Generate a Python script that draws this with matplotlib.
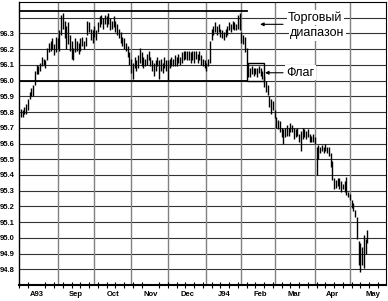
import matplotlib
matplotlib.use("Agg")
import matplotlib.pyplot as plt
from matplotlib.patches import Rectangle

# ---- data (daily high / low of the bar chart, trading-day index) ----
highs = [95.82, 95.81, 95.83, 95.85, 95.88, 95.93, 95.95, 95.97, 96.06, 96.10,
         96.09, 96.11, 96.15, 96.14, 96.13, 96.21, 96.24, 96.25, 96.27, 96.23,
         96.28, 96.27, 96.32, 96.42, 96.43, 96.38, 96.35, 96.37, 96.29, 96.25,
         96.21, 96.27, 96.25, 96.24, 96.27, 96.28, 96.25, 96.28, 96.38, 96.37,
         96.33, 96.32, 96.35, 96.32, 96.37, 96.41, 96.42, 96.40, 96.42, 96.41,
         96.43, 96.40, 96.38, 96.41, 96.38, 96.36, 96.33, 96.31, 96.28, 96.27,
         96.24, 96.22, 96.18, 96.14, 96.11, 96.15, 96.13, 96.16, 96.21, 96.18,
         96.15, 96.14, 96.17, 96.19, 96.15, 96.13, 96.11, 96.13, 96.15, 96.13,
         96.14, 96.11, 96.15, 96.13, 96.13, 96.14, 96.15, 96.14, 96.16, 96.15,
         96.17, 96.15, 96.18, 96.19, 96.19, 96.19, 96.19, 96.18, 96.19, 96.19,
         96.19, 96.17, 96.19, 96.16, 96.14, 96.13, 96.11, 96.14, 96.25, 96.33,
         96.35, 96.37, 96.35, 96.36, 96.33, 96.32, 96.31, 96.33, 96.35, 96.37,
         96.36, 96.38, 96.37, 96.36, 96.42, 96.43, 96.31, 96.29, 96.28, 96.21,
         96.11, 96.08, 96.09, 96.08, 96.08, 96.08, 96.09, 96.08, 96.06, 96.03,
         96.00, 95.97, 95.90, 95.88, 95.87, 95.81, 95.77, 95.75, 95.74, 95.70,
         95.69, 95.70, 95.72, 95.70, 95.73, 95.72, 95.70, 95.69, 95.70, 95.66,
         95.68, 95.70, 95.69, 95.68, 95.69, 95.66, 95.65, 95.66, 95.64, 95.58,
         95.59, 95.58, 95.59, 95.58, 95.60, 95.58, 95.58, 95.54, 95.49, 95.38,
         95.37, 95.38, 95.38, 95.36, 95.34, 95.36, 95.39, 95.29, 95.28, 95.24,
         95.22, 95.18, 95.13, 94.98, 94.97, 94.94, 95.02, 94.99, 95.05]
lows = [95.77, 95.77, 95.79, 95.79, 95.81, 95.88, 95.90, 95.90, 95.97, 96.04,
        96.04, 96.06, 96.09, 96.10, 96.08, 96.13, 96.18, 96.19, 96.20, 96.16,
        96.18, 96.20, 96.19, 96.29, 96.33, 96.27, 96.20, 96.23, 96.19, 96.14,
        96.13, 96.18, 96.19, 96.17, 96.19, 96.22, 96.20, 96.22, 96.29, 96.31,
        96.26, 96.24, 96.28, 96.26, 96.31, 96.34, 96.36, 96.33, 96.36, 96.34,
        96.36, 96.32, 96.33, 96.34, 96.31, 96.29, 96.27, 96.24, 96.22, 96.20,
        96.19, 96.15, 96.10, 96.05, 96.01, 96.08, 96.06, 96.08, 96.11, 96.09,
        96.08, 96.09, 96.10, 96.13, 96.09, 96.06, 96.03, 96.06, 96.09, 96.01,
        96.06, 96.05, 96.08, 96.06, 96.00, 96.08, 96.09, 96.09, 96.09, 96.09,
        96.11, 96.10, 96.11, 96.13, 96.14, 96.13, 96.13, 96.11, 96.13, 96.11,
        96.14, 96.11, 96.13, 96.10, 96.09, 96.08, 96.06, 96.09, 96.11, 96.26,
        96.29, 96.31, 96.29, 96.31, 96.28, 96.27, 96.26, 96.28, 96.29, 96.32,
        96.31, 96.33, 96.32, 96.32, 96.33, 96.32, 96.24, 96.23, 96.18, 96.11,
        96.02, 96.02, 96.04, 96.03, 96.04, 96.02, 96.05, 96.03, 96.01, 95.96,
        95.93, 95.91, 95.83, 95.79, 95.81, 95.76, 95.70, 95.69, 95.67, 95.64,
        95.60, 95.64, 95.65, 95.65, 95.67, 95.67, 95.63, 95.64, 95.65, 95.61,
        95.55, 95.63, 95.64, 95.63, 95.64, 95.61, 95.61, 95.61, 95.60, 95.40,
        95.50, 95.54, 95.55, 95.54, 95.55, 95.54, 95.52, 95.45, 95.37, 95.31,
        95.32, 95.33, 95.31, 95.29, 95.31, 95.29, 95.27, 95.26, 95.24, 95.19,
        95.17, 95.13, 94.99, 94.83, 94.78, 94.83, 94.81, 94.90, 94.97]
days = list(range(1, len(highs) + 1))

month_starts = [22, 43, 64, 85, 107, 127, 146, 169, 189]
month_label_pos = [10, 32.5, 53.5, 75, 96, 117, 137.5, 157.5, 179, 202]
month_labels = ["A93", "Sep", "Oct", "Nov", "Dec", "J94", "Feb", "Mar", "Apr", "May"]
ytick_vals = [94.8, 94.9, 95.0, 95.1, 95.2, 95.3, 95.4, 95.5, 95.6, 95.7,
              95.8, 95.9, 96.0, 96.1, 96.2, 96.3]
grid_vals = ytick_vals + [96.4]
range_top, range_bottom, range_end = 96.44, 96.0, 130
flag_start, flag_end, flag_top = 130, 140, 96.11

# ---- figure ----
fig = plt.figure(figsize=(3.88, 3.01), dpi=100)
ax = fig.add_axes([19 / 388, 16 / 301, 367 / 388, 283 / 301])
ax.set_xlim(0.3, 209.6)
ax.set_ylim(94.7, 96.5)

for g in grid_vals:
    ax.axhline(g, color="#333333", lw=0.8, zorder=1)
for m in month_starts:
    ax.axvline(m, color="#808080", lw=1.0, zorder=1)

# trading range and flag
ax.plot([0.3, range_end], [range_top, range_top], color="black", lw=1.3, zorder=3)
ax.plot([0.3, range_end], [range_bottom, range_bottom], color="black", lw=1.3, zorder=3)
ax.add_patch(Rectangle((flag_start, range_bottom), flag_end - flag_start,
                       flag_top - range_bottom, fill=False, ec="black", lw=1.0, zorder=3))

ax.vlines(days, lows, highs, color="black", lw=1.0, zorder=4)

# annotations
ax.annotate("", xy=(137.7, 96.358), xytext=(150.8, 96.358),
            arrowprops=dict(arrowstyle="-|>", color="black", lw=0.8,
                            mutation_scale=5, shrinkA=0, shrinkB=0), zorder=5)
ax.annotate("", xy=(140.5, 96.05), xytext=(150.8, 96.05),
            arrowprops=dict(arrowstyle="-|>", color="black", lw=0.8,
                            mutation_scale=5, shrinkA=0, shrinkB=0), zorder=5)
tb = dict(facecolor="white", edgecolor="none", pad=1)
ax.text(153.7, 96.40, "Торговый", fontsize=9, family="Liberation Sans",
        ha="left", va="center", bbox=tb, zorder=6)
ax.text(154.8, 96.30, "диапазон", fontsize=9, family="Liberation Sans",
        ha="left", va="center", bbox=tb, zorder=6)
ax.text(152.5, 96.05, "Флаг", fontsize=9, family="Liberation Sans",
        ha="left", va="center", bbox=tb, zorder=6)

# axes styling
ax.set_yticks(ytick_vals)
ax.set_yticklabels([f"{v:.1f}" for v in ytick_vals], fontsize=5.5,
                   fontweight="bold", family="Liberation Sans")
ax.tick_params(axis="y", length=0, pad=3)
ax.set_xticks(month_label_pos)
ax.set_xticklabels(month_labels, fontsize=5.5, fontweight="bold",
                   family="Liberation Sans")
ax.set_xticks(list(range(0, 210, 5)), minor=True)
ax.tick_params(axis="x", which="major", length=0, pad=4)
ax.tick_params(axis="x", which="minor", length=4, direction="inout", width=0.8)
for s in ["top", "right"]:
    ax.spines[s].set_linewidth(0.8)
ax.spines["left"].set_linewidth(1.0)
ax.spines["bottom"].set_linewidth(1.5)

fig.savefig("out.png", dpi=100)
